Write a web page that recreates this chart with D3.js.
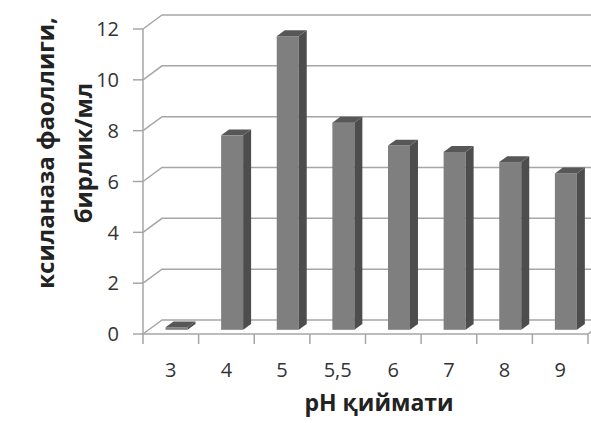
<!DOCTYPE html>
<html>
<head>
<meta charset="utf-8">
<script src="https://cdn.jsdelivr.net/npm/d3@7"></script>
<style>
  body { margin: 0; background: #fff; }
  text { font-family: "Open Sans", sans-serif; }
</style>
</head>
<body>
<div id="chart"></div>
<script>
// data
var categories = ["3", "4", "5", "5,5", "6", "7", "8", "9"];
var values = [0.1, 7.65, 11.55, 8.15, 7.25, 7.0, 6.6, 6.15];
var yTicks = [0, 2, 4, 6, 8, 10, 12];
var yTitle = ["ксиланаза фаоллиги,", "бирлик/мл"];
var xTitle = "pH қиймати";

var width = 591, height = 423;

// depth of the 3d box (back wall offset) and of the bars
var wallDx = 19, wallDy = -14;
var barPos = 0.3, barDepth = 0.42;

var svg = d3.select("#chart")
  .append("svg")
    .attr("width", width)
    .attr("height", height);

var x = d3.scaleBand()
  .domain(categories)
  .range([143, 588])
  .padding(0);

var y = d3.scaleLinear()
  .domain([0, 12])
  .range([334, 29]);

var gridColor = "#a6a6a6";

// gridlines on the back wall (with the short diagonal to the axis)
svg.append("g")
  .selectAll("path")
  .data(yTicks)
  .enter()
  .append("path")
    .attr("d", function(d) {
      return "M" + x.range()[0] + "," + y(d) +
        "L" + (x.range()[0] + wallDx) + "," + (y(d) + wallDy) +
        "L" + (x.range()[1] + wallDx) + "," + (y(d) + wallDy);
    })
    .attr("fill", "none")
    .attr("stroke", gridColor)
    .attr("stroke-width", 1.5);

// floor
svg.append("path")
  .attr("d", "M" + x.range()[0] + "," + y(0) +
    "L" + x.range()[1] + "," + y(0) +
    "L" + (x.range()[1] + wallDx) + "," + (y(0) + wallDy))
  .attr("fill", "none")
  .attr("stroke", gridColor)
  .attr("stroke-width", 1.5);

// y axis
svg.append("line")
  .attr("x1", x.range()[0]).attr("x2", x.range()[0])
  .attr("y1", y(0) + 0.5).attr("y2", y(12))
  .attr("stroke", gridColor)
  .attr("stroke-width", 1.5);

svg.append("g")
  .selectAll("line")
  .data(yTicks)
  .enter()
  .append("line")
    .attr("x1", x.range()[0] - 10).attr("x2", x.range()[0])
    .attr("y1", function(d) { return y(d); })
    .attr("y2", function(d) { return y(d); })
    .attr("stroke", gridColor)
    .attr("stroke-width", 1.5);

svg.append("g")
  .selectAll("text")
  .data(yTicks)
  .enter()
  .append("text")
    .attr("x", 119)
    .attr("y", function(d) { return y(d); })
    .attr("dy", "0.36em")
    .attr("text-anchor", "end")
    .attr("font-size", 20)
    .attr("fill", "#333")
    .text(function(d) { return d; });

// x axis ticks
var xEdges = categories.map(function(c) { return x(c); }).concat([x.range()[1]]);
svg.append("g")
  .selectAll("line")
  .data(xEdges)
  .enter()
  .append("line")
    .attr("x1", function(d) { return d; })
    .attr("x2", function(d) { return d; })
    .attr("y1", y(0))
    .attr("y2", y(0) + 10)
    .attr("stroke", gridColor)
    .attr("stroke-width", 1.5);

svg.append("g")
  .selectAll("text")
  .data(categories)
  .enter()
  .append("text")
    .attr("x", function(d) { return x(d) + x.bandwidth() / 2; })
    .attr("y", 370)
    .attr("dy", "0.36em")
    .attr("text-anchor", "middle")
    .attr("font-size", 20)
    .attr("fill", "#333")
    .text(function(d) { return d; });

// bars: front face, right side, top
var faceW = 22, faceOff = 22.5;
var ox = wallDx * barPos, oy = wallDy * barPos;
var dx = wallDx * barDepth, dy = wallDy * barDepth;

var bars = svg.append("g")
  .selectAll("g")
  .data(categories.map(function(c, i) { return {cat: c, v: values[i]}; }))
  .enter()
  .append("g");

bars.append("rect")
  .attr("x", function(d) { return x(d.cat) + faceOff; })
  .attr("y", function(d) { return y(d.v) + oy; })
  .attr("width", faceW)
  .attr("height", function(d) { return y(0) - y(d.v); })
  .attr("fill", "#7f7f7f");

bars.append("path")
  .attr("d", function(d) {
    var x0 = x(d.cat) + faceOff + faceW, yt = y(d.v) + oy, yb = y(0) + oy;
    return "M" + x0 + "," + yt + "L" + (x0 + dx) + "," + (yt + dy) +
      "L" + (x0 + dx) + "," + (yb + dy) + "L" + x0 + "," + yb + "Z";
  })
  .attr("fill", "#4d4d4d");

bars.append("path")
  .attr("d", function(d) {
    var x0 = x(d.cat) + faceOff, yt = y(d.v) + oy;
    return "M" + x0 + "," + yt + "L" + (x0 + faceW) + "," + yt +
      "L" + (x0 + faceW + dx) + "," + (yt + dy) + "L" + (x0 + dx) + "," + (yt + dy) + "Z";
  })
  .attr("fill", "#575757");

// titles
svg.append("text")
  .attr("x", 379)
  .attr("y", 403)
  .attr("dy", "0.36em")
  .attr("text-anchor", "middle")
  .attr("font-size", 23)
  .attr("font-weight", "bold")
  .attr("fill", "#222")
  .text(xTitle);

svg.append("g")
  .attr("transform", "translate(0,153) rotate(-90)")
  .selectAll("text")
  .data(yTitle)
  .enter()
  .append("text")
    .attr("x", 0)
    .attr("y", function(d, i) { return i === 0 ? 45 : 83; })
    .attr("dy", "0.36em")
    .attr("text-anchor", "middle")
    .attr("font-size", 24)
    .attr("font-weight", "bold")
    .attr("fill", "#222")
    .text(function(d) { return d; });
</script>
</body>
</html>
